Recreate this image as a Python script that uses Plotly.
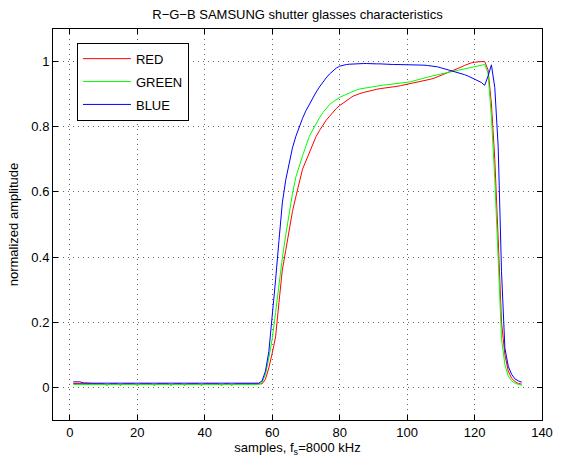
import plotly.graph_objects as go

samples = list(range(1, 135))

red = [
    0.012, 0.012, 0.012, 0.011, 0.011, 0.011, 0.011, 0.011, 0.010, 0.011,
    0.007, 0.011, 0.011, 0.011, 0.007, 0.011, 0.011, 0.011, 0.011, 0.007,
    0.011, 0.011, 0.011, 0.011, 0.007, 0.011, 0.011, 0.011, 0.011, 0.007,
    0.011, 0.011, 0.011, 0.007, 0.011, 0.011, 0.011, 0.011, 0.007, 0.011,
    0.011, 0.011, 0.011, 0.011, 0.007, 0.011, 0.011, 0.007, 0.011, 0.011,
    0.011, 0.011, 0.011, 0.011, 0.011, 0.011, 0.011, 0.025, 0.060, 0.105,
    0.155, 0.260, 0.360, 0.420, 0.480, 0.540, 0.585, 0.630, 0.670, 0.695,
    0.720, 0.747, 0.770, 0.788, 0.806, 0.820, 0.832, 0.845, 0.856, 0.865,
    0.873, 0.880, 0.887, 0.894, 0.899, 0.902, 0.905, 0.908, 0.911, 0.913,
    0.915, 0.917, 0.918, 0.920, 0.921, 0.922, 0.924, 0.926, 0.928, 0.930,
    0.932, 0.935, 0.937, 0.939, 0.941, 0.943, 0.946, 0.949, 0.953, 0.957,
    0.961, 0.965, 0.969, 0.973, 0.978, 0.983, 0.988, 0.993, 0.996, 0.998,
    1.000, 1.000, 1.000, 0.975, 0.870, 0.700, 0.457, 0.200, 0.100, 0.050,
    0.028, 0.018, 0.012, 0.010,
]

green = [
    0.009, 0.009, 0.009, 0.009, 0.009, 0.009, 0.009, 0.009, 0.009, 0.009,
    0.009, 0.009, 0.009, 0.009, 0.009, 0.009, 0.009, 0.009, 0.009, 0.009,
    0.009, 0.009, 0.009, 0.009, 0.009, 0.009, 0.009, 0.009, 0.009, 0.009,
    0.009, 0.009, 0.009, 0.009, 0.009, 0.009, 0.009, 0.009, 0.009, 0.009,
    0.009, 0.009, 0.009, 0.009, 0.009, 0.009, 0.009, 0.009, 0.009, 0.009,
    0.009, 0.009, 0.009, 0.009, 0.009, 0.009, 0.015, 0.040, 0.090, 0.150,
    0.230, 0.320, 0.397, 0.467, 0.538, 0.594, 0.645, 0.681, 0.711, 0.741,
    0.770, 0.790, 0.810, 0.827, 0.843, 0.857, 0.868, 0.876, 0.884, 0.890,
    0.895, 0.900, 0.904, 0.909, 0.913, 0.916, 0.918, 0.920, 0.922, 0.924,
    0.925, 0.927, 0.928, 0.929, 0.930, 0.932, 0.933, 0.934, 0.935, 0.936,
    0.938, 0.941, 0.943, 0.946, 0.949, 0.952, 0.955, 0.957, 0.960, 0.962,
    0.964, 0.967, 0.969, 0.971, 0.973, 0.975, 0.977, 0.979, 0.981, 0.983,
    0.985, 0.988, 0.991, 0.965, 0.830, 0.640, 0.410, 0.150, 0.070, 0.035,
    0.020, 0.013, 0.009, 0.007,
]

blue = [
    0.017, 0.017, 0.017, 0.014, 0.013, 0.013, 0.013, 0.013, 0.013, 0.013,
    0.013, 0.013, 0.013, 0.013, 0.013, 0.013, 0.013, 0.013, 0.013, 0.013,
    0.013, 0.013, 0.013, 0.013, 0.013, 0.013, 0.013, 0.013, 0.013, 0.013,
    0.013, 0.013, 0.013, 0.013, 0.013, 0.013, 0.013, 0.013, 0.013, 0.013,
    0.013, 0.013, 0.013, 0.013, 0.013, 0.013, 0.013, 0.013, 0.013, 0.013,
    0.013, 0.013, 0.013, 0.013, 0.013, 0.013, 0.020, 0.050, 0.110, 0.210,
    0.330, 0.450, 0.566, 0.636, 0.690, 0.735, 0.770, 0.800, 0.826, 0.849,
    0.869, 0.888, 0.906, 0.922, 0.937, 0.950, 0.962, 0.972, 0.980, 0.986,
    0.989, 0.991, 0.992, 0.993, 0.993, 0.994, 0.994, 0.994, 0.993, 0.993,
    0.993, 0.993, 0.992, 0.992, 0.992, 0.991, 0.991, 0.991, 0.990, 0.990,
    0.990, 0.990, 0.990, 0.989, 0.989, 0.988, 0.987, 0.986, 0.984, 0.981,
    0.978, 0.976, 0.973, 0.971, 0.967, 0.964, 0.960, 0.956, 0.951, 0.947,
    0.942, 0.936, 0.927, 0.955, 0.990, 0.920, 0.740, 0.355, 0.120, 0.065,
    0.040, 0.026, 0.020, 0.016,
]

series_names = ["RED", "GREEN", "BLUE"]
series_values = [red, green, blue]
series_colors = ["#ff0000", "#00ff00", "#0000ff"]

FONT = "Liberation Sans, Arial, Helvetica, sans-serif"

fig = go.Figure()
for name, vals, col in zip(series_names, series_values, series_colors):
    fig.add_trace(go.Scatter(
        x=samples, y=vals, mode="lines", name=name, legendgroup=name,
        line=dict(color=col, width=1),
    ))

axis_common = dict(
    showline=True, linecolor="black", linewidth=1, mirror="ticks",
    ticks="inside", ticklen=5, tickcolor="black", tickwidth=1,
    showgrid=True, gridcolor="#666666", griddash="1px,4px", gridwidth=1,
    zeroline=False, tickfont=dict(family=FONT, size=13, color="black"),
)

fig.update_layout(
    width=565, height=465,
    margin=dict(l=53, r=15, t=29, b=43),
    paper_bgcolor="white", plot_bgcolor="white",
    font=dict(family=FONT, size=13, color="black"),
    title=dict(text="R\u2212G\u2212B SAMSUNG shutter glasses characteristics",
               x=0.5, xref="paper", y=1 - 14 / 465, yref="container",
               xanchor="center", yanchor="middle",
               font=dict(family=FONT, size=13, color="black")),
    xaxis=dict(range=[-5, 140], dtick=20, tick0=0,
               title=dict(text="samples, f<sub>s</sub>=8000 kHz", standoff=4,
                          font=dict(family=FONT, size=13, color="black")),
               **axis_common),
    yaxis=dict(range=[-0.1, 1.1], dtick=0.2, tick0=0,
               title=dict(text="normalized amplitude", standoff=9,
                          font=dict(family=FONT, size=13, color="black")),
               **axis_common),
    legend=dict(x=0.049, y=0.965, xanchor="left", yanchor="top",
                bgcolor="white", bordercolor="black", borderwidth=1,
                font=dict(family=FONT, size=13, color="black"),
                tracegroupgap=3, itemwidth=48),
    showlegend=True,
)

fig.write_html("out.html")
